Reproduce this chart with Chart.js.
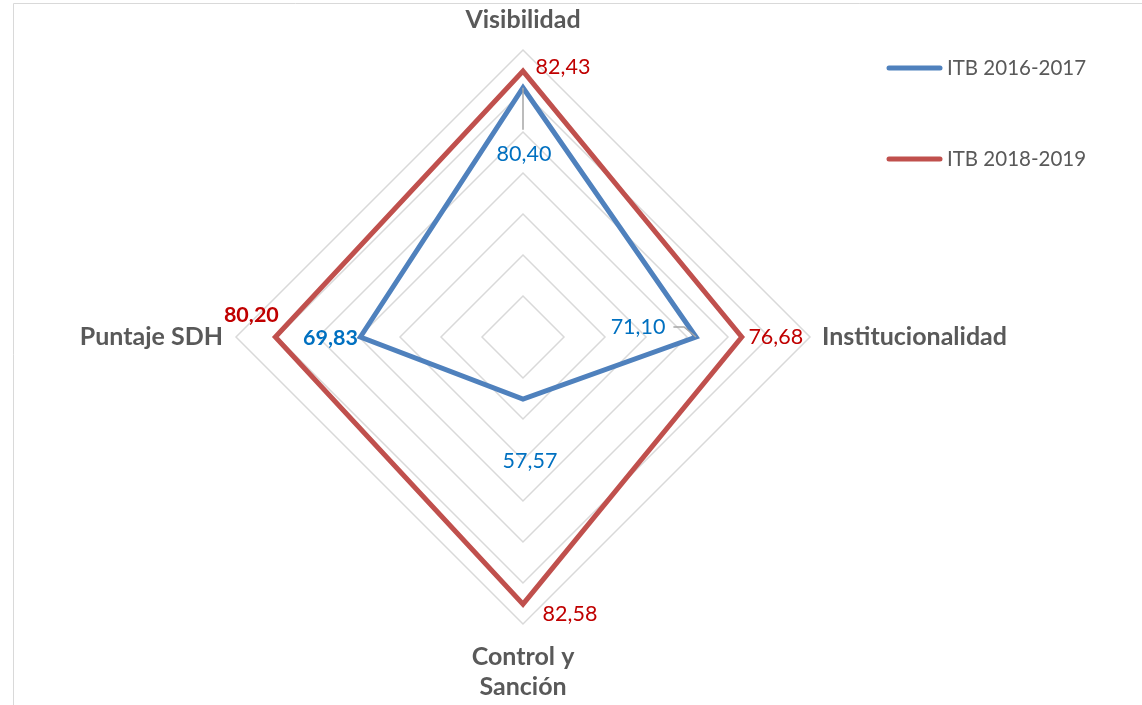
<html><head><meta charset="utf-8"><script src="https://cdn.jsdelivr.net/npm/chart.js@4.4.3/dist/chart.umd.min.js"></script></head>
<body style="margin:0;background:#fff">
<canvas id="mychart" width="1142" height="705"></canvas>
<script>
// data
categories = ["Visibilidad", "Institucionalidad", ["Control y", "Sanción"], "Puntaje SDH"]
seriesNames = ["ITB 2016-2017", "ITB 2018-2019"]
itb2016 = [80.40, 71.10, 57.57, 69.83]
itb2018 = [82.43, 76.68, 82.58, 80.20]
scaleMin = 50; scaleMax = 85; scaleStep = 5

BLUE = "#4f81bd"; RED = "#c0504d"
LBL_BLUE = "#0070c0"; LBL_RED = "#c00000"
GRAY = "#595959"
FONT = "Lato"

function fmt(v) { return v.toFixed(2).replace(".", ",") }

// label offsets from each point: [dx, dy, bold, leader]
labelPos = [
  [[1, 66, false, "up"], [-58, -10, false, "right"], [7, 62, false, null], [-30, 1, true, null]],
  [[40, -4, false, null], [34, 0, false, null], [47, 10, false, null], [-24, -22, true, null]]
]
labelColor = [LBL_BLUE, LBL_RED]

extras = {
  id: "extras",
  beforeDraw(chart) {
    c = chart.ctx
    c.save()
    c.strokeStyle = "#d9d9d9"; c.lineWidth = 1
    c.beginPath(); c.moveTo(13.5, 705); c.lineTo(13.5, 3.5); c.lineTo(1142, 3.5); c.stroke()
    c.restore()
  },
  afterDatasetsDraw(chart) {
    c = chart.ctx
    r = chart.scales.r
    c.save()
    // axis labels
    c.fillStyle = GRAY
    c.font = "bold 25px " + FONT
    c.textBaseline = "middle"
    p = r.getPointPosition(0, r.drawingArea + 30)
    c.textAlign = "center"; c.fillText(categories[0], p.x, p.y)
    p = r.getPointPosition(1, r.drawingArea + 12)
    c.textAlign = "left"; c.fillText(categories[1], p.x, p.y)
    p = r.getPointPosition(2, r.drawingArea + 33)
    c.textAlign = "center"; c.fillText(categories[2][0], p.x, p.y); c.fillText(categories[2][1], p.x, p.y + 30)
    p = r.getPointPosition(3, r.drawingArea + 13)
    c.textAlign = "right"; c.fillText(categories[3], p.x, p.y)

    // data labels
    c.textAlign = "center"
    ;[itb2016, itb2018].forEach(function(vals, d) {
      meta = chart.getDatasetMeta(d)
      vals.forEach(function(v, i) {
        pt = meta.data[i]
        lp = labelPos[d][i]
        tx = pt.x + lp[0]; ty = pt.y + lp[1]
        c.font = (lp[2] ? "bold " : "") + "21.5px " + FONT
        if (lp[3]) {
          c.strokeStyle = "#a6a6a6"; c.lineWidth = 1.5
          c.beginPath()
          if (lp[3] == "up") { c.moveTo(pt.x, pt.y); c.lineTo(pt.x, ty - 24) }
          else { w = c.measureText(fmt(v)).width; c.moveTo(tx + w / 2 + 8, ty); c.lineTo(pt.x - 12, ty); c.lineTo(pt.x, pt.y) }
          c.stroke()
        }
        c.fillStyle = labelColor[d]
        c.fillText(fmt(v), tx, ty)
      })
    })

    // legend
    c.lineCap = "round"; c.lineWidth = 5
    c.font = "20.5px " + FONT; c.textAlign = "left"; c.fillStyle = GRAY
    ;[BLUE, RED].forEach(function(col, k) {
      y = 68 + k * 91
      c.strokeStyle = col
      c.beginPath(); c.moveTo(889, y); c.lineTo(940, y); c.stroke()
      c.fillText(seriesNames[k], 947, y)
    })
    c.restore()
  }
}

config = {
  type: "radar",
  data: {
    labels: categories,
    datasets: [
      { label: seriesNames[0], data: itb2016, borderColor: BLUE, borderWidth: 5, fill: false, pointRadius: 0, borderJoinStyle: "miter" },
      { label: seriesNames[1], data: itb2018, borderColor: RED, borderWidth: 5, fill: false, pointRadius: 0, borderJoinStyle: "miter" }
    ]
  },
  options: {
    responsive: false,
    animation: false,
    layout: { padding: { left: 236, right: 332, top: 50, bottom: 81 } },
    plugins: { legend: { display: false }, tooltip: { enabled: false } },
    elements: { line: { tension: 0 } },
    scales: {
      r: {
        min: scaleMin, max: scaleMax,
        ticks: { stepSize: scaleStep, display: false },
        grid: { color: "#d9d9d9", lineWidth: 1.5 },
        angleLines: { display: false },
        pointLabels: { display: false }
      }
    }
  },
  plugins: [extras]
}
new Chart(document.querySelector("#mychart"), config)
</script>
</body></html>
